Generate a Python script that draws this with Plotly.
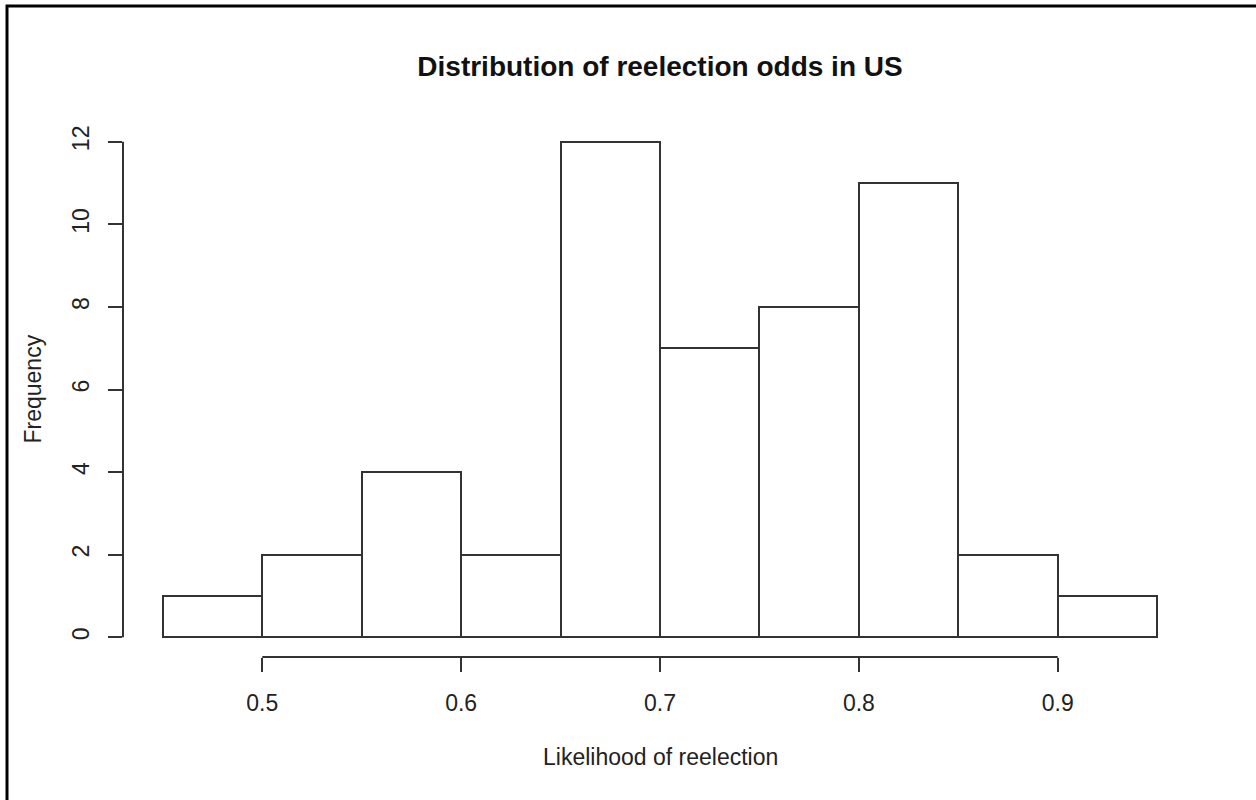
import plotly.graph_objects as go

# ---- data ----
bin_edges = [0.45, 0.50, 0.55, 0.60, 0.65, 0.70, 0.75, 0.80, 0.85, 0.90, 0.95]
counts = [1, 2, 4, 2, 12, 7, 8, 11, 2, 1]
x_ticks = [0.5, 0.6, 0.7, 0.8, 0.9]
x_tick_labels = ["0.5", "0.6", "0.7", "0.8", "0.9"]
y_ticks = [0, 2, 4, 6, 8, 10, 12]
y_tick_labels = ["0", "2", "4", "6", "8", "10", "12"]
title_text = "Distribution of reelection odds in US"
x_title = "Likelihood of reelection"
y_title = "Frequency"

# ---- layout constants ----
W, H = 1256, 800
ML, MR, MT, MB = 123, 59, 122, 143
PW, PH = W - ML - MR, H - MT - MB
FONT = "Liberation Sans, Arial, sans-serif"
LINE = "#333333"
TXT = "#222222"
FS = 23

def px_to_paper_x(px):
    return (px - ML) / PW

def py_to_paper_y(py):
    return (H - MB - py) / PH

centers = [(a + b) / 2 for a, b in zip(bin_edges[:-1], bin_edges[1:])]
widths = [b - a for a, b in zip(bin_edges[:-1], bin_edges[1:])]

fig = go.Figure()
fig.add_trace(go.Bar(
    x=centers, y=counts, width=widths,
    marker=dict(color="white", line=dict(color=LINE, width=2)),
    showlegend=False, hoverinfo="skip",
))

x_lo, x_hi = bin_edges[0], bin_edges[-1]
x_pad = (x_hi - x_lo) * 0.04
y_hi = max(counts)
y_pad = y_hi * 0.04

fig.update_layout(
    width=W, height=H,
    margin=dict(l=ML, r=MR, t=MT, b=MB, pad=0),
    paper_bgcolor="white", plot_bgcolor="white",
    font=dict(family=FONT, size=FS, color=TXT),
    bargap=0,
    xaxis=dict(
        range=[x_lo - x_pad, x_hi + x_pad],
        tickvals=x_ticks, ticktext=x_tick_labels,
        showgrid=False, zeroline=False, showline=False,
        ticks="outside", ticklen=14, tickwidth=2, tickcolor=LINE,
        ticklabelstandoff=11,
        tickfont=dict(size=FS, color=TXT),
    ),
    yaxis=dict(
        range=[0 - y_pad, y_hi + y_pad],
        tickvals=y_ticks, ticktext=y_tick_labels,
        showgrid=False, zeroline=False, showline=False,
        ticks="outside", ticklen=14, tickwidth=2, tickcolor=LINE,
        tickangle=-90, ticklabelstandoff=10,
        tickfont=dict(size=FS, color=TXT),
    ),
    title=dict(
        text="<b>" + title_text + "</b>",
        font=dict(family=FONT, size=28, color="#111111"),
        x=0.5 * (ML + ML + PW) / W, xanchor="center",
        y=1 - 66 / H, yanchor="middle", yref="container",
    ),
)

shapes = []
# axis lines spanning first to last tick (R style)
shapes.append(dict(type="line", xref="x", yref="paper",
                   x0=x_ticks[0], x1=x_ticks[-1], y0=0, y1=0,
                   line=dict(color=LINE, width=2)))
shapes.append(dict(type="line", xref="paper", yref="y",
                   x0=0, x1=0, y0=y_ticks[0], y1=y_ticks[-1],
                   line=dict(color=LINE, width=2)))
# outer frame
shapes.append(dict(type="rect", xref="paper", yref="paper",
                   x0=px_to_paper_x(7), x1=px_to_paper_x(W + 40),
                   y0=py_to_paper_y(H + 40), y1=py_to_paper_y(6),
                   line=dict(color="black", width=3), fillcolor="rgba(0,0,0,0)",
                   layer="above"))
fig.update_layout(shapes=shapes)

fig.add_annotation(text=x_title, xref="paper", yref="paper",
                   x=0.5, y=py_to_paper_y(757), xanchor="center", yanchor="middle",
                   showarrow=False, font=dict(family=FONT, size=FS, color=TXT))
fig.add_annotation(text=y_title, xref="paper", yref="paper",
                   x=px_to_paper_x(32), y=0.5, xanchor="center", yanchor="middle",
                   textangle=-90,
                   showarrow=False, font=dict(family=FONT, size=FS, color=TXT))

fig.write_html("out.html")
